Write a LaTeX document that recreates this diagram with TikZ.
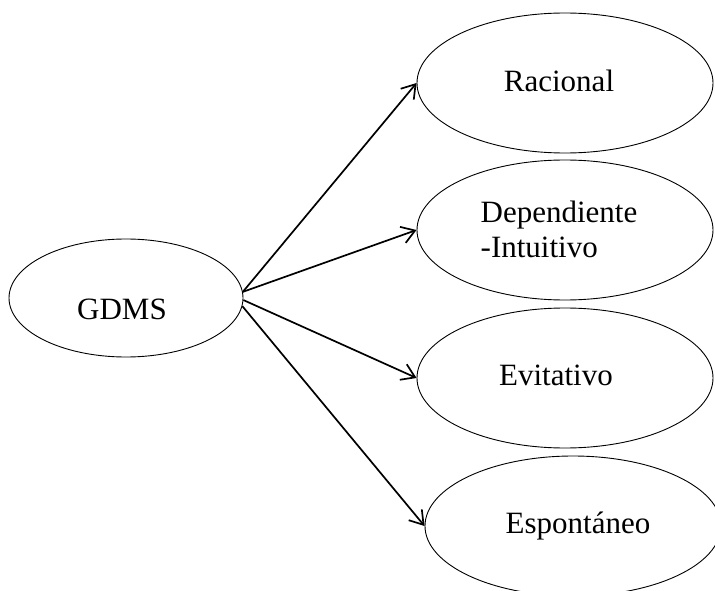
\documentclass[tikz,border=0pt]{standalone}
\usepackage{fontspec}
\setmainfont{Liberation Serif}
\usetikzlibrary{
	shapes.geometric,
	arrows.meta
}

\begin{document}
\begin{tikzpicture}[x=1pt, y=-1pt,
    oval/.style={draw, ellipse, line width=0.9pt, inner sep=0pt},
    lbl/.style={font=\fontsize{31}{35}\selectfont, inner sep=0pt},
    link/.style={line width=1.7pt, -{Straight Barb[length=13pt, width=17pt, line width=1.7pt]}}]

\useasboundingbox (0,0) rectangle (715,591);

% Central scale
\node[oval, minimum width=234pt, minimum height=118pt] (gdms) at (126, 298) {};
\node[lbl, anchor=base] (gdmstxt) at (122, 319) {GDMS};

% Decision styles
\node[oval, minimum width=296pt, minimum height=140pt] (racional) at (565, 83) {};
\node[oval, minimum width=296pt, minimum height=140pt] (depint) at (565, 230) {};
\node[oval, minimum width=296pt, minimum height=140pt] (evit) at (565, 378) {};
\node[oval, minimum width=296pt, minimum height=140pt] (espont) at (573, 526) {};

% Labels
\node[lbl, anchor=base] (racionaltxt) at (559, 92) {Racional};
\node[lbl, align=left] (depinttxt) at (559, 229) {Dependiente\\-Intuitivo};
\node[lbl, anchor=base] (evittxt) at (556, 385) {Evitativo};
\node[lbl, anchor=base] (esponttxt) at (578, 533) {Espontáneo};

% Arrows
\draw[link] (gdms.3) -- (racional.west);
\draw[link] (gdms.3) -- (depint.west);
\draw[link] (gdms.-1) -- (evit.west);
\draw[link] (gdms.-4.5) -- (espont.west);

\end{tikzpicture}
\end{document}
